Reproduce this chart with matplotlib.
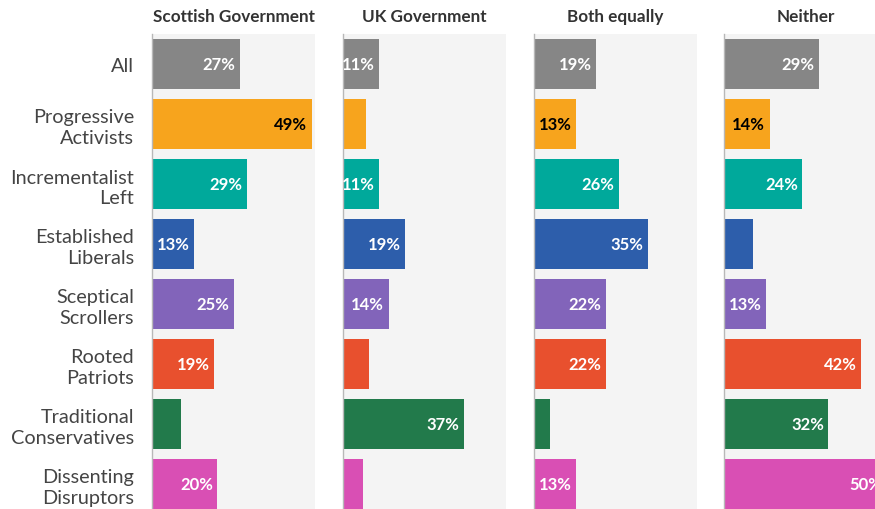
import matplotlib.pyplot as plt

groups = ["All", "Progressive\nActivists", "Incrementalist\nLeft", "Established\nLiberals",
          "Sceptical\nScrollers", "Rooted\nPatriots", "Traditional\nConservatives",
          "Dissenting\nDisruptors"]
panels = ["Scottish Government", "UK Government", "Both equally", "Neither"]

scottish = [27, 49, 29, 13, 25, 19, 9, 20]
uk = [11, 7, 11, 19, 14, 8, 37, 6]
both = [19, 13, 26, 35, 22, 22, 5, 13]
neither = [29, 14, 24, 9, 13, 42, 32, 50]

colors = ["#868686", "#f7a41d", "#00a99b", "#2d5eab", "#8264ba",
          "#e8502e", "#227a4b", "#d94fb4"]
label_colors = ["white", "black", "white", "white", "white", "white", "white", "white"]

W, H = 875, 510
fig = plt.figure(figsize=(W / 100, H / 100), dpi=100)

lefts = [152, 343, 534, 724]
pw = 163
top = 35
ph = 480

for k, (name, vals) in enumerate(zip(panels, [scottish, uk, both, neither])):
    ax = fig.add_axes([lefts[k] / W, (H - top - ph) / H, pw / W, ph / H])
    ax.set_facecolor("#f4f4f4")
    ax.barh(range(len(groups)), vals, height=0.82, color=colors, linewidth=0)
    ax.set_xlim(0, 50)
    ax.set_ylim(7.5, -0.5)
    for s in ["top", "right", "bottom"]:
        ax.spines[s].set_visible(False)
    ax.spines["left"].set_color("#b8b8b8")
    ax.spines["left"].set_linewidth(1)
    ax.set_xticks([])
    ax.tick_params(axis="y", length=0, pad=13)
    if k == 0:
        ax.set_yticks(range(len(groups)))
        ax.set_yticklabels(groups, fontsize=14.3, family="Lato", color="#444444",
                           linespacing=1.25)
    else:
        ax.set_yticks([])
    for i, v in enumerate(vals):
        if v >= 11:
            ax.annotate(f"{v}%", (v, i), xytext=(-3.2, 0), textcoords="offset points",
                        ha="right", va="center", fontsize=12, fontweight="bold",
                        family="Lato", color=label_colors[i])
    fig.text((lefts[k] + pw / 2) / W, 1 - 17 / H, name, ha="center", va="center",
             fontsize=12.3, fontweight="bold", family="Lato", color="#333333")

fig.savefig("out.png", dpi=100)
